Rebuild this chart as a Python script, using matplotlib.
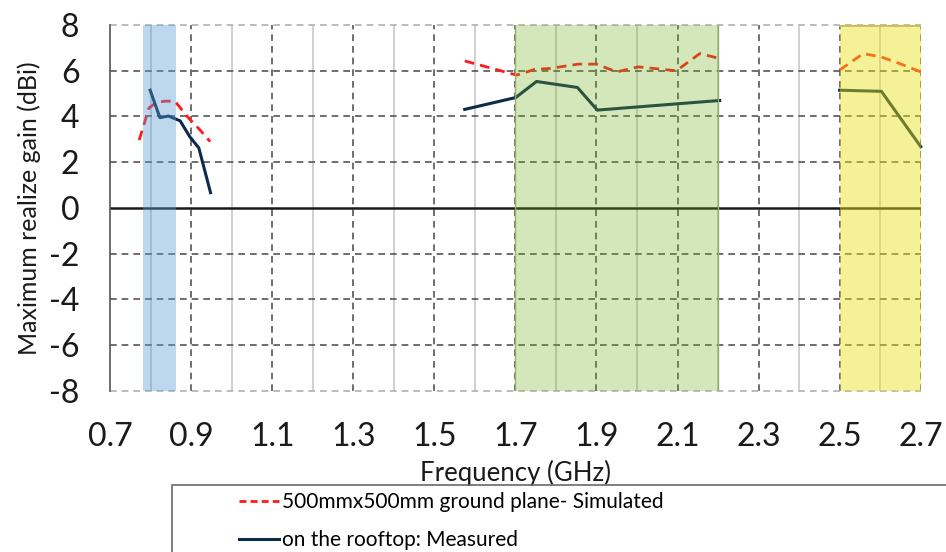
import matplotlib.pyplot as plt
from matplotlib.patches import Rectangle
from matplotlib.lines import Line2D

plt.rcParams['font.family'] = ['Lato', 'DejaVu Sans']
plt.rcParams['axes.unicode_minus'] = False

# simulated gain (500mm x 500mm ground plane), three frequency segments
sim_f1 = [0.772, 0.796, 0.815, 0.836, 0.86, 0.892, 0.92, 0.947]
sim_g1 = [2.97, 4.37, 4.62, 4.67, 4.67, 3.97, 3.45, 2.9]
sim_f2 = [1.575, 1.703, 1.748, 1.785, 1.855, 1.9, 1.95, 2.003, 2.097, 2.155, 2.203]
sim_g2 = [6.43, 5.81, 6.06, 6.1, 6.29, 6.29, 5.95, 6.17, 6.0, 6.75, 6.54]
sim_f3 = [2.5, 2.558, 2.603, 2.65, 2.7]
sim_g3 = [6.03, 6.75, 6.6, 6.3, 5.95]

# measured on the rooftop
meas_f1 = [0.799, 0.823, 0.844, 0.873, 0.897, 0.919, 0.948]
meas_g1 = [5.15, 3.95, 4.02, 3.81, 3.11, 2.63, 0.67]
meas_f2 = [1.575, 1.701, 1.752, 1.853, 1.902, 2.204]
meas_g2 = [4.31, 4.83, 5.53, 5.27, 4.28, 4.7]
meas_f3 = [2.5, 2.603, 2.7]
meas_g3 = [5.15, 5.1, 2.68]

# highlighted bands (GHz)
bands = [(0.782, 0.864, '#5a9bd4', 0.4),
         (1.7, 2.2, '#73b220', 0.3),
         (2.5, 2.7, '#ebe016', 0.45)]

major_x = [0.7, 0.9, 1.1, 1.3, 1.5, 1.7, 1.9, 2.1, 2.3, 2.5, 2.7]
minor_x = [0.8, 1.0, 1.2, 1.4, 1.6, 1.8, 2.0, 2.2, 2.4, 2.6]
y_ticks = [-8, -6, -4, -2, 0, 2, 4, 6, 8]

fig = plt.figure(figsize=(9.46, 5.52), dpi=100)
ax = fig.add_axes([0.1163, 0.2917, 0.857, 0.663])

ax.set_xlim(0.7, 2.7)
ax.set_ylim(-8, 8)
ax.set_xticks(major_x)
ax.set_xticklabels([f'{v:.1f}' for v in major_x])
ax.set_yticks(y_ticks)
ax.tick_params(length=0, labelsize=23, colors='#1a1a1a')
ax.tick_params(axis='x', pad=22)
ax.tick_params(axis='y', pad=22)

# gridlines
for x in minor_x:
    ax.axvline(x, color='#c8c8c8', lw=1.2, zorder=1)
for x in major_x[1:]:
    ax.axvline(x, color='#555555', lw=1.2, ls=(0, (4, 3)), zorder=1)
for y in y_ticks:
    if y == 0:
        ax.axhline(y, color='#1a1a1a', lw=1.8, zorder=2)
    elif abs(y) == 8:
        ax.axhline(y, color='#b0b0b0', lw=1.2, ls=(0, (4, 3)), zorder=1, clip_on=False)
    else:
        ax.axhline(y, color='#555555', lw=1.2, ls=(0, (4, 3)), zorder=1)

for sp in ['top', 'right', 'bottom']:
    ax.spines[sp].set_visible(False)
ax.spines['left'].set_color('#555555')
ax.spines['left'].set_linewidth(1.2)

red = '#ff1a1a'
navy = '#0c2a4a'
for f, g in [(sim_f1, sim_g1), (sim_f2, sim_g2), (sim_f3, sim_g3)]:
    ax.plot(f, g, color=red, lw=2, ls=(0, (3.5, 2.2)), zorder=3, clip_on=False)
for f, g in [(meas_f1, meas_g1), (meas_f2, meas_g2), (meas_f3, meas_g3)]:
    ax.plot(f, g, color=navy, lw=2.2, zorder=3, clip_on=False)

# translucent bands drawn on top of the curves
for x0, x1, c, a in bands:
    ax.axvspan(x0, x1, ymin=0, ymax=1.004, color=c, alpha=a, lw=0, zorder=4)
    if c == '#73b220':
        for xe in (x0, x1):
            ax.axvline(xe, color='#8db36a', lw=1, zorder=4)
    if c == '#ebe016':
        ax.plot([x0, x1], [8, 8], color='#c8c050', lw=2, zorder=4)

ax.set_xlabel('Frequency (GHz)', fontsize=18.5, labelpad=6, color='#1a1a1a')
ax.set_ylabel('Maximum realize gain (dBi)', fontsize=18, labelpad=6, color='#1a1a1a')

# legend box, cut off at the right and bottom edge
fig.patches.append(Rectangle((172 / 946, -0.1), 0.9, 0.1 + (552 - 485) / 552,
                             transform=fig.transFigure, fill=False,
                             edgecolor='#6a6a6a', lw=1.2))
handles = [Line2D([], [], color=red, lw=2, ls=(0, (2.5, 1.5))),
           Line2D([], [], color=navy, lw=2.2)]
fig.legend(handles, ['500mmx500mm ground plane- Simulated', 'on the rooftop: Measured'],
           loc='upper left', bbox_to_anchor=(233 / 946, 1 - 486 / 552),
           frameon=False, fontsize=15, handlelength=1.9, handletextpad=0.15,
           labelspacing=0.85, borderpad=0.3, borderaxespad=0)

fig.savefig('out.png', dpi=100)
